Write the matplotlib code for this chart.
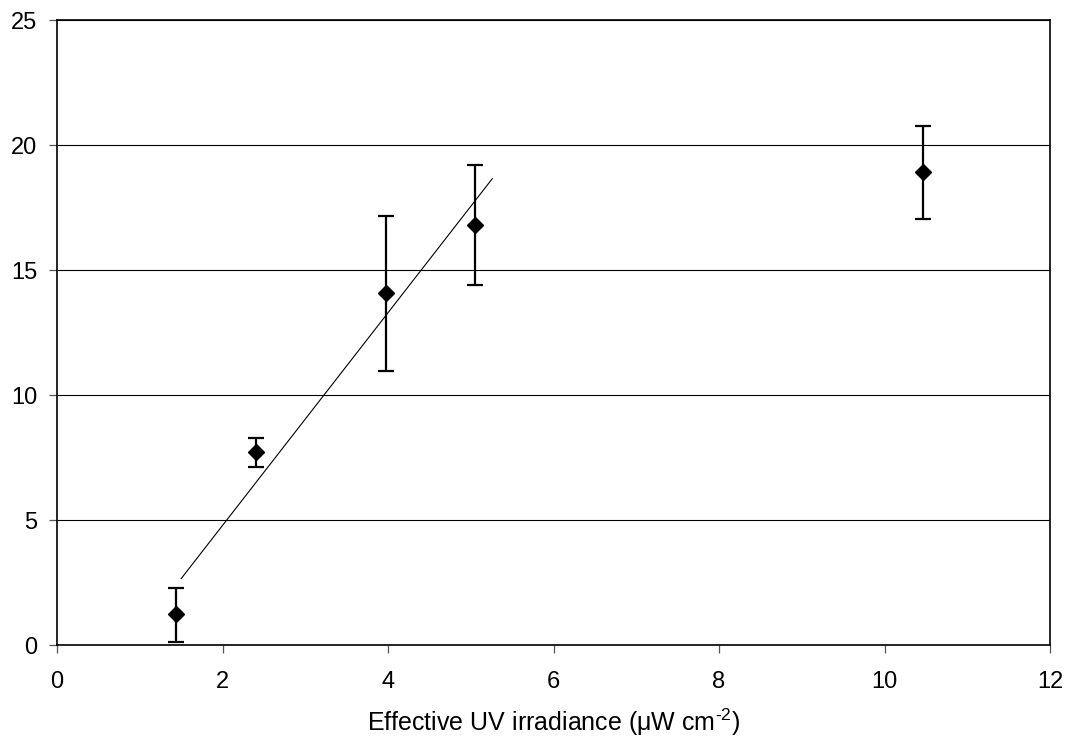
import numpy as np
import matplotlib
matplotlib.use("Agg")
import matplotlib.pyplot as plt

plt.rcParams['font.family'] = ['Liberation Sans', 'DejaVu Sans']
plt.rcParams['mathtext.fontset'] = 'custom'
plt.rcParams['mathtext.rm'] = 'Liberation Sans'
plt.rcParams['mathtext.it'] = 'Liberation Sans:italic'

# Data
irradiance = [1.44, 2.40, 3.97, 5.05, 10.47]
response = [1.24, 7.72, 14.08, 16.81, 18.92]
err_low = [1.10, 0.58, 3.11, 2.40, 1.87]
err_high = [1.06, 0.58, 3.09, 2.40, 1.85]
fit_n = 4                 # trendline fitted on the first four points
trend_span = [1.50, 5.26]  # x extent of trendline
x_ticks = [0, 2, 4, 6, 8, 10, 12]
y_ticks = [0, 5, 10, 15, 20, 25]
x_label = 'Effective UV irradiance (\u03bcW cm$^{\\text{-2}}$)'

fig = plt.figure(figsize=(10.70, 7.39), dpi=100)
ax = fig.add_axes([57/1070, 93.7/739, (1050-57)/1070, (645.3-20.3)/739])

ax.set_xlim(0, 12)
ax.set_ylim(0, 25)
ax.set_xticks(x_ticks)
ax.set_yticks(y_ticks)
ax.yaxis.grid(True, color='black', linewidth=0.8)
ax.set_axisbelow(True)

for s in ax.spines.values():
    s.set_color('black')
    s.set_linewidth(1.2)

ax.tick_params(axis='both', direction='out', length=5.5, width=0.9, color='#555555',
               labelsize=17)
ax.tick_params(axis='x', pad=13)
ax.tick_params(axis='y', pad=8.5)

ax.errorbar(irradiance, response, yerr=[err_low, err_high], fmt='D', color='black',
            markersize=8, elinewidth=1.6, capsize=6, capthick=1.6, zorder=3)

coef = np.polyfit(irradiance[:fit_n], response[:fit_n], 1)
tx = np.array(trend_span)
ax.plot(tx, np.polyval(coef, tx), color='black', linewidth=0.8, zorder=2)

ax.set_xlabel(x_label, fontsize=18, labelpad=10)

fig.savefig('out.png', dpi=100)
